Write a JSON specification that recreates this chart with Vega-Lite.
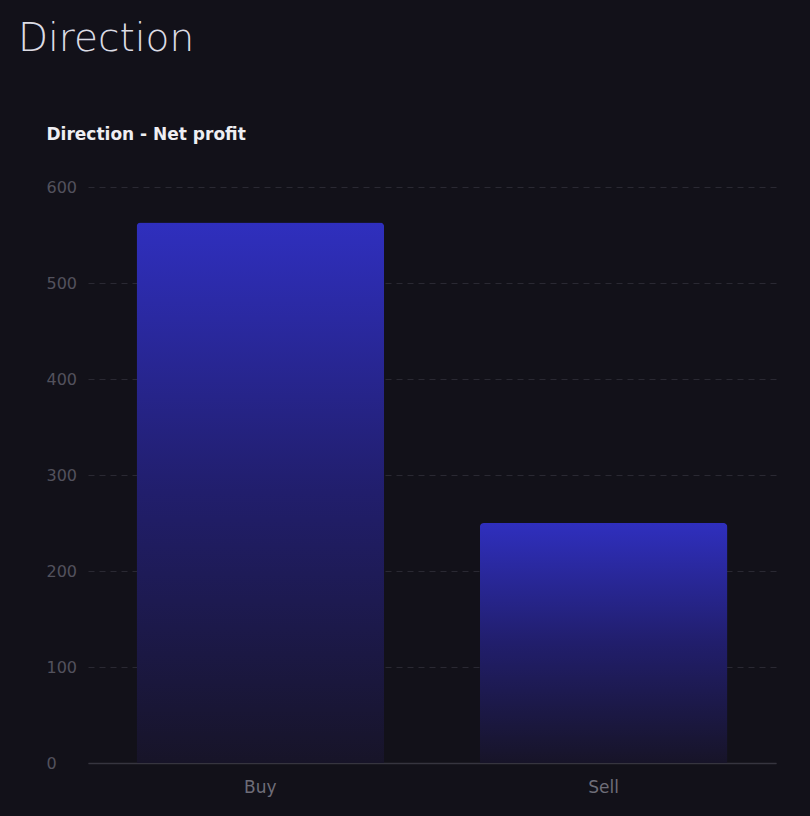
{
  "$schema": "https://vega.github.io/schema/vega-lite/v6.json",
  "autosize": {"type": "none"},
  "width": 688,
  "height": 576,
  "padding": {"left": 88, "top": 187, "right": 34, "bottom": 53},
  "background": "#121119",
  "title": {
    "text": "Direction",
    "anchor": "start",
    "frame": "group",
    "dx": -70,
    "offset": 66,
    "font": "DejaVu Sans",
    "fontSize": 39,
    "fontWeight": 200,
    "color": "#dcdce4"
  },
  "data": {
    "values": [
      {"direction": "Buy", "net_profit": 563},
      {"direction": "Sell", "net_profit": 250}
    ]
  },
  "mark": {
    "type": "bar",
    "cornerRadiusTopLeft": 4,
    "cornerRadiusTopRight": 4,
    "color": {
      "gradient": "linear",
      "x1": 0, "y1": 0, "x2": 0, "y2": 1,
      "stops": [
        {"offset": 0, "color": "#2f2fbe"},
        {"offset": 0.5, "color": "#211e6c"},
        {"offset": 1, "color": "#171428"}
      ]
    }
  },
  "encoding": {
    "x": {
      "field": "direction",
      "type": "nominal",
      "scale": {"paddingInner": 0.279, "paddingOuter": 0.1416},
      "axis": {
        "title": null,
        "labelAngle": 0,
        "labelColor": "#6e6d78",
        "labelFontSize": 17,
        "labelFont": "DejaVu Sans",
        "labelPadding": 16,
        "ticks": false,
        "domainColor": "#36353f",
        "domainWidth": 1.5
      }
    },
    "y": {
      "field": "net_profit",
      "type": "quantitative",
      "scale": {"domain": [0, 600]},
      "axis": {
        "values": [0, 100, 200, 300, 400, 500, 600],
        "title": "Direction - Net profit",
        "titleAngle": 0,
        "titleAlign": "left",
        "titleBaseline": "alphabetic",
        "titleX": -42,
        "titleY": -48,
        "titleFont": "DejaVu Sans",
        "titleFontSize": 17,
        "titleFontWeight": "bold",
        "titleColor": "#eeeef2",
        "labelAlign": "left",
        "labelPadding": 42,
        "labelColor": "#53525d",
        "labelFontSize": 16,
        "labelFont": "DejaVu Sans",
        "ticks": false,
        "domain": false,
        "gridColor": "#2a2933",
        "gridDash": [6, 5]
      }
    }
  },
  "config": {
    "view": {"stroke": null}
  }
}
